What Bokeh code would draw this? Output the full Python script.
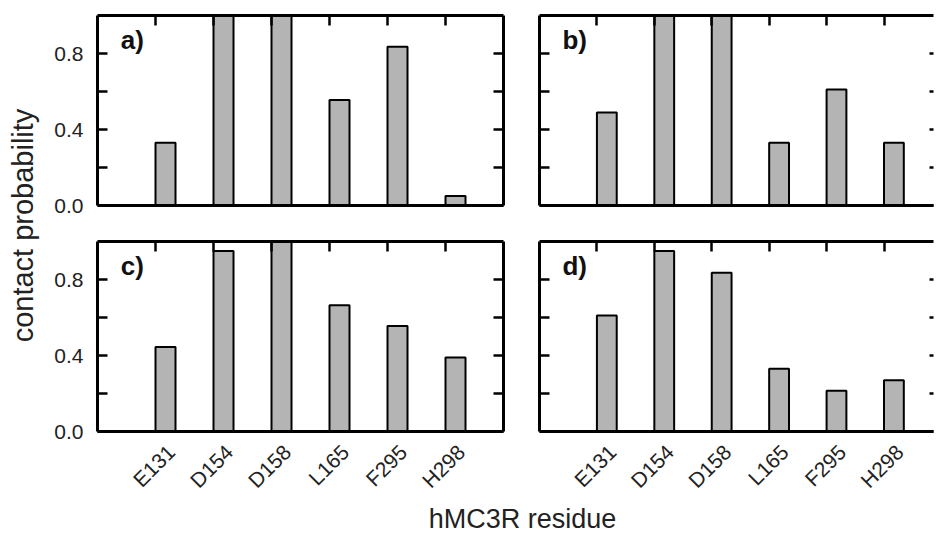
from bokeh.plotting import figure
from bokeh.layouts import row, column
from bokeh.models import (Range1d, FixedTicker, LinearAxis, PrintfTickFormatter,
                          Label, CustomLabelingPolicy)
from bokeh.embed import file_html
from bokeh.resources import INLINE
from bokeh.core.properties import value
import math

# ---------------- data ----------------
residues = ["E131", "D154", "D158", "L165", "F295", "H298"]
prob_a = [0.33, 1.0, 1.0, 0.555, 0.835, 0.05]
prob_b = [0.49, 1.0, 1.0, 0.33, 0.61, 0.33]
prob_c = [0.445, 0.95, 1.0, 0.665, 0.555, 0.39]
prob_d = [0.61, 0.95, 0.835, 0.33, 0.215, 0.27]
panel_labels = ["a)", "b)", "c)", "d)"]
y_ticks = [0.0, 0.4, 0.8]
y_minor = [0.2, 0.6]

FONT = "Liberation Sans"
BAR_W = 0.345
FILL = "#b4b4b4"
AXW = 3
PX_PER_UNIT = 58.0

idx = list(range(len(residues)))
xs = [i + BAR_W / 2 for i in idx]
lab_pos = [x + 0.10 for x in xs]

NO_LABELS = "const ids = [...indices]; for (const i of ids) indices.unset(i); return indices"


def hide_labels(ax):
    ax.major_label_text_font_size = "1px"
    ax.major_label_standoff = 0
    ax.major_label_policy = CustomLabelingPolicy(code=NO_LABELS)


TOP_H = 223
BOT_BORDER = 72
BOT_H = 18 + 190 + BOT_BORDER
XLAB_H = 534 - TOP_H - BOT_H


def panel(vals, lab, left_col, bottom_row):
    fw = 406 if left_col else 398
    bl = 49 if left_col else 26
    br = 10 if left_col else 0
    bt = 15 if not bottom_row else 18
    bb = 18 if not bottom_row else BOT_BORDER
    p = figure(width=bl + fw + br, height=bt + 190 + bb,
               x_range=Range1d(-1, -1 + fw / PX_PER_UNIT), y_range=Range1d(0, 1.0),
               output_backend="svg", toolbar_location=None,
               x_axis_location=None, y_axis_location=None,
               min_border_left=bl, min_border_right=br,
               min_border_top=bt, min_border_bottom=bb)
    p.outline_line_color = None
    p.xgrid.visible = False
    p.ygrid.visible = False
    p.background_fill_color = "white"
    p.border_fill_color = "white"

    p.vbar(x=xs, top=vals, width=BAR_W, fill_color=FILL,
           line_color="black", line_width=2)

    # left axis
    la = LinearAxis(ticker=FixedTicker(ticks=y_ticks, minor_ticks=y_minor),
                    formatter=PrintfTickFormatter(format="%.1f"))
    la.axis_line_width = AXW
    la.major_tick_in = 10
    la.major_tick_out = 0
    la.minor_tick_in = 10
    la.minor_tick_out = 0
    la.major_tick_line_width = 2.5
    la.minor_tick_line_width = 2.5
    if left_col:
        la.major_label_text_font = FONT
        la.major_label_text_font_size = "21px"
        la.major_label_text_color = "#222222"
        la.major_label_standoff = 14
    else:
        hide_labels(la)
    p.add_layout(la, "left")

    # right axis
    ra = LinearAxis(ticker=FixedTicker(ticks=y_ticks, minor_ticks=y_minor))
    ra.major_tick_in = 10 if left_col else 4
    ra.major_tick_out = 0
    ra.minor_tick_in = 10 if left_col else 4
    ra.minor_tick_out = 0
    ra.major_tick_line_width = 2.5
    ra.minor_tick_line_width = 2.5
    hide_labels(ra)
    if left_col:
        ra.axis_line_width = AXW
    else:
        ra.axis_line_color = None
    p.add_layout(ra, "right")

    # top axis: ticks at bar left edges
    ta = LinearAxis(ticker=FixedTicker(ticks=idx, minor_ticks=[]))
    ta.axis_line_width = AXW
    ta.major_tick_in = 10
    ta.major_tick_out = 0
    ta.major_tick_line_width = 2.5
    ta.minor_tick_in = 0
    ta.minor_tick_out = 0
    hide_labels(ta)
    p.add_layout(ta, "above")

    # bottom axis: category labels
    ba = LinearAxis(ticker=FixedTicker(ticks=lab_pos, minor_ticks=[]))
    ba.axis_line_width = AXW
    ba.major_tick_in = 0
    ba.major_tick_out = 0
    ba.minor_tick_in = 0
    ba.minor_tick_out = 0
    if bottom_row:
        ba.major_label_overrides = {x: r for x, r in zip(lab_pos, residues)}
        ba.major_label_orientation = math.pi / 4
        ba.major_label_text_font = FONT
        ba.major_label_text_font_size = "21px"
        ba.major_label_text_color = "#222222"
        ba.major_label_standoff = 17
    else:
        hide_labels(ba)
    p.add_layout(ba, "below")

    p.add_layout(Label(x=-0.6, y=0.95, text=lab, text_font=FONT,
                       text_font_size="26px", text_font_style="bold",
                       text_baseline="top", text_color="#111111"))
    return p


pa = panel(prob_a, panel_labels[0], True, False)
pb = panel(prob_b, panel_labels[1], False, False)
pc = panel(prob_c, panel_labels[2], True, True)
pd = panel(prob_d, panel_labels[3], False, True)

# y title
YL_H = TOP_H + BOT_H
ylab = figure(width=48, height=YL_H, x_range=Range1d(0, 48), y_range=Range1d(0, YL_H),
              output_backend="svg", toolbar_location=None,
              x_axis_location=None, y_axis_location=None,
              min_border=0)
ylab.outline_line_color = None
ylab.xgrid.visible = False
ylab.ygrid.visible = False
ylab.text(x=[22], y=[YL_H - 225], text=["contact probability"], angle=math.pi / 2,
          text_font=value(FONT), text_font_size="29px", text_align="center",
          text_baseline="middle", text_color="#222222")

# x title
xlab = figure(width=937, height=XLAB_H, x_range=Range1d(0, 937), y_range=Range1d(0, XLAB_H),
              output_backend="svg", toolbar_location=None,
              x_axis_location=None, y_axis_location=None,
              min_border=0)
xlab.outline_line_color = None
xlab.xgrid.visible = False
xlab.ygrid.visible = False
xlab.text(x=[522], y=[XLAB_H / 2], text=["hMC3R residue"],
          text_font=value(FONT), text_font_size="27px", text_align="center",
          text_baseline="middle", text_color="#222222")

layout = column(row(ylab, column(pa, pc), column(pb, pd)), xlab)

open("out.html", "w").write(file_html(layout, INLINE))
